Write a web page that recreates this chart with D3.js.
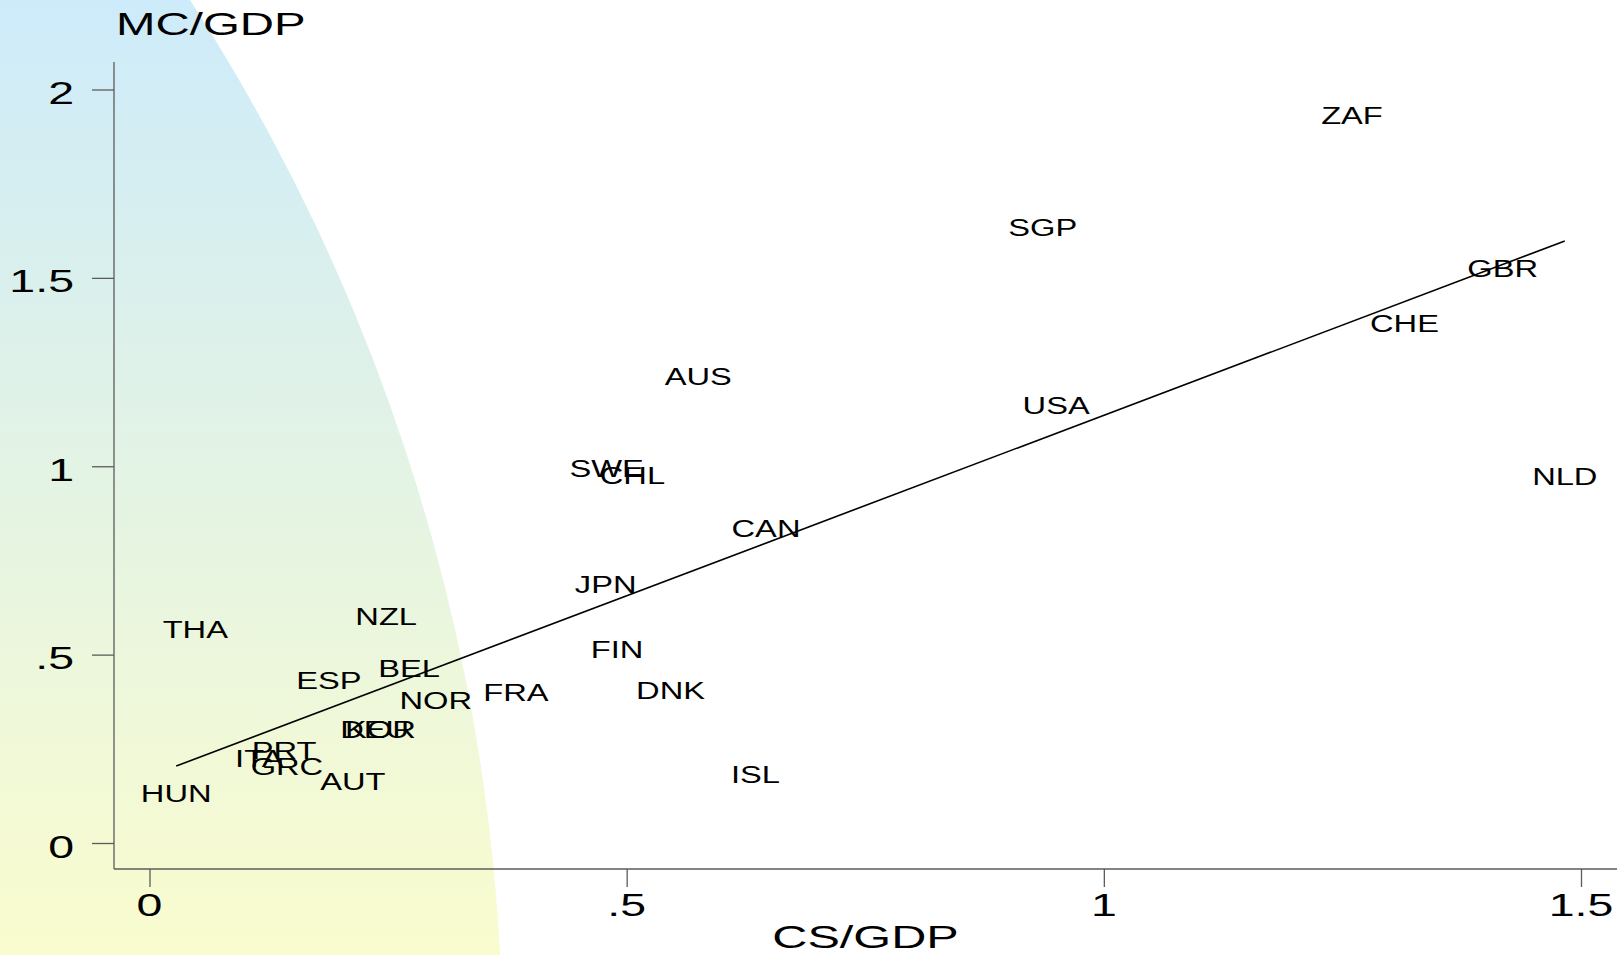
<!DOCTYPE html>
<html>
<head>
<meta charset="utf-8">
<script src="https://cdn.jsdelivr.net/npm/d3@7"></script>
<style>
  html, body { margin: 0; padding: 0; background: #ffffff; }
  svg { display: block; }
  text { font-family: "Liberation Sans", Arial, Helvetica, sans-serif; fill: #000; }
</style>
</head>
<body>
<svg id="chart" width="1623" height="955"></svg>
<script>
// Country codes with stock-market capitalisation (MC/GDP) vs. private credit (CS/GDP)
const countries = ["ZAF","SGP","GBR","CHE","AUS","USA","NLD","SWE","CHL","CAN",
                   "JPN","FIN","DNK","FRA","ISL","THA","NZL","ESP","BEL","NOR",
                   "DEU","KOR","ITA","PRT","GRC","HUN","AUT"];
const csGdp = [1.260, 0.936, 1.418, 1.315, 0.575, 0.950, 1.483, 0.479, 0.506, 0.646,
               0.478, 0.490, 0.546, 0.384, 0.635, 0.048, 0.248, 0.188, 0.272, 0.300,
               0.236, 0.242, 0.115, 0.141, 0.144, 0.028, 0.213];
const mcGdp = [1.917, 1.621, 1.511, 1.365, 1.225, 1.148, 0.959, 0.981, 0.962, 0.821,
               0.673, 0.500, 0.390, 0.385, 0.168, 0.552, 0.588, 0.418, 0.448, 0.363,
               0.286, 0.286, 0.211, 0.231, 0.189, 0.118, 0.148];

const xTicks = [0, 0.5, 1, 1.5];
const yTicks = [0, 0.5, 1, 1.5, 2];
const xTitle = "CS/GDP";
const yTitle = "MC/GDP";

// Stata-style number format: drop the leading zero (".5")
const fmt = v => (v === 0 ? "0" : String(v).replace(/^0\./, "."));

const svg = d3.select("#chart");

// Backdrop: large disc filled with a sky-blue to pale-yellow vertical gradient
const defs = svg.append("defs");
const grad = defs.append("linearGradient")
  .attr("id", "bgGrad")
  .attr("gradientUnits", "userSpaceOnUse")
  .attr("x1", 0).attr("y1", 0).attr("x2", 0).attr("y2", 955);
grad.append("stop").attr("offset", "0%").attr("stop-color", "#cdebfa");
grad.append("stop").attr("offset", "100%").attr("stop-color", "#fafcce");
svg.append("circle")
  .attr("cx", -1445).attr("cy", 1059).attr("r", 1948)
  .attr("fill", "url(#bgGrad)");

// Scales
const x = d3.scaleLinear().domain([0, 1.5]).range([149.5, 1581]);
const y = d3.scaleLinear().domain([0, 2]).range([843, 89.5]);

const axisLeftX = 114, axisBottomY = 869, axisTopY = 62, axisRightX = 1617;
const axisColor = "#5b5b5b";

// Axes (d3 axis generators, then restyled)
const gx = svg.append("g").attr("transform", `translate(0,${axisBottomY})`)
  .call(d3.axisBottom(x).tickValues(xTicks).tickSize(18).tickFormat(() => ""));
const gy = svg.append("g").attr("transform", `translate(${axisLeftX},0)`)
  .call(d3.axisLeft(y).tickValues(yTicks).tickSize(22).tickFormat(() => ""));
[gx, gy].forEach(g => {
  g.select(".domain").remove();
  g.selectAll(".tick line").attr("stroke", axisColor).attr("stroke-width", 1.3);
});
svg.append("line")
  .attr("x1", axisLeftX).attr("x2", axisRightX)
  .attr("y1", axisBottomY).attr("y2", axisBottomY)
  .attr("stroke", axisColor).attr("stroke-width", 1.3);
svg.append("line")
  .attr("x1", axisLeftX).attr("x2", axisLeftX)
  .attr("y1", axisTopY).attr("y2", axisBottomY)
  .attr("stroke", axisColor).attr("stroke-width", 1.3);

// Horizontally stretched text helper
function stretchedText(g, str, tx, ty, size, sx, anchor) {
  return g.append("text")
    .attr("transform", `translate(${tx},${ty}) scale(${sx},1)`)
    .attr("text-anchor", anchor)
    .attr("font-size", size)
    .text(str);
}

const tickSize = 31, tickSx = 1.5;
xTicks.forEach(v => stretchedText(svg, fmt(v), x(v), 916, tickSize, tickSx, "middle"));
yTicks.forEach(v => stretchedText(svg, fmt(v), 74, y(v) + 11.5 + 3, tickSize, tickSx, "end"));

// Axis titles
stretchedText(svg, xTitle, (axisLeftX + axisRightX) / 2, 948, 32, 1.52, "middle");
stretchedText(svg, yTitle, 116, 35, 31, 1.53, "start");

// Least-squares fit line over the observed CS/GDP range
const n = csGdp.length;
const mx = d3.mean(csGdp), my = d3.mean(mcGdp);
let sxy = 0, sxx = 0;
for (let i = 0; i < n; i++) {
  sxy += (csGdp[i] - mx) * (mcGdp[i] - my);
  sxx += (csGdp[i] - mx) ** 2;
}
const slope = sxy / sxx, intercept = my - slope * mx;
const [xmin, xmax] = d3.extent(csGdp);
const fitLine = d3.line().x(d => x(d[0])).y(d => y(d[1]));
svg.append("path")
  .attr("d", fitLine([[xmin, intercept + slope * xmin], [xmax, intercept + slope * xmax]]))
  .attr("fill", "none").attr("stroke", "#000").attr("stroke-width", 1.6);

// Country labels centred on each observation
const labelSize = 23, labelSx = 1.42, labelDy = labelSize * 0.358 - 5;
const lg = svg.append("g");
countries.forEach((c, i) => {
  stretchedText(lg, c, x(csGdp[i]), y(mcGdp[i]) + labelDy, labelSize, labelSx, "middle");
});
</script>
</body>
</html>
